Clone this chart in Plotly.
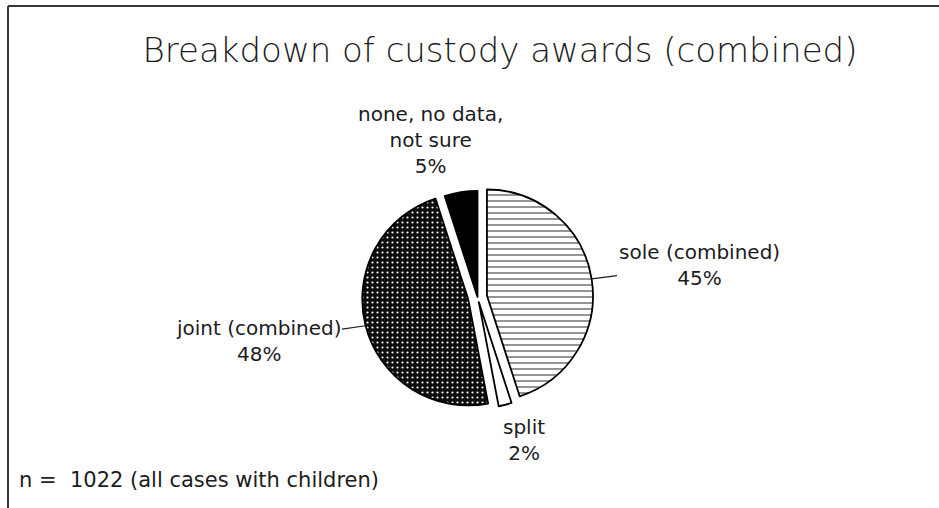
import math
import plotly.graph_objects as go

# Custody award breakdown (percent of cases with children)
categories = ["sole (combined)", "split", "joint (combined)", "none, no data,<br>not sure"]
percents = [45, 2, 48, 5]
sample_note = "n = \u00a01022 (all cases with children)"
chart_title = "Breakdown of custody awards (combined)"

# Slice styling
pulls = [0.09, 0.05, 0.09, 0.0]
fills = ["white", "white", "#0d0d0d", "black"]
pattern_shapes = ["-", "", ".", ""]
pattern_fg = ["#3a3a3a", "white", "white", "black"]
pattern_bg = ["white", "white", "#0d0d0d", "black"]

W, H = 939, 508
FONT = "DejaVu Sans"
INK = "#1c1c1c"

# Pie placement in pixels (centre and drawn radius)
cx_px, cy_px, r_px = 477.5, 297.0, 106.0
half = r_px * (1 + max(pulls))
dom_x = [(cx_px - half) / W, (cx_px + half) / W]
dom_y = [(H - cy_px - half) / H, (H - cy_px + half) / H]

fig = go.Figure(
    go.Pie(
        labels=[c.replace("<br>", " ") for c in categories],
        values=percents,
        sort=False,
        direction="clockwise",
        rotation=0,
        pull=pulls,
        textinfo="none",
        hoverinfo="label+percent",
        domain=dict(x=dom_x, y=dom_y),
        marker=dict(
            colors=fills,
            line=dict(color="black", width=1.8),
            pattern=dict(
                shape=pattern_shapes,
                fgcolor=pattern_fg,
                bgcolor=pattern_bg,
                size=[6, 8, 5, 8],
                solidity=[0.18, 0.2, 0.15, 0.2],
                fillmode="replace",
            ),
        ),
        showlegend=False,
    )
)

# Text centres for each slice label (pixels) and whether it gets a leader line
label_centres = [(699, 265), (524, 440), (258, 341), (430, 140)]
leaders = [True, False, True, False]

total = sum(percents)
start = 0.0
annotations = []
for name, pct, pull, (tx, ty), lead in zip(categories, percents, pulls, label_centres, leaders):
    frac = pct / total
    mid = 2 * math.pi * (start + frac / 2)
    start += frac
    text = f"{name}<br>{pct}%"
    if lead:
        # point on the slice rim at its mid angle (after the pull offset)
        hx = cx_px + (1 + pull) * r_px * math.sin(mid)
        hy = cy_px - (1 + pull) * r_px * math.cos(mid)
        annotations.append(dict(
            x=hx / W, y=1 - hy / H, xref="paper", yref="paper",
            ax=tx - hx, ay=ty - hy, axref="pixel", ayref="pixel",
            text=text, showarrow=True, arrowhead=0, arrowwidth=1.2,
            arrowcolor=INK, standoff=0, startstandoff=0,
            font=dict(family=FONT, size=20, color=INK), align="center",
        ))
    else:
        annotations.append(dict(
            x=tx / W, y=1 - ty / H, xref="paper", yref="paper",
            xanchor="center", yanchor="middle", showarrow=False,
            text=text, font=dict(family=FONT, size=20, color=INK), align="center",
        ))

annotations.append(dict(
    x=17 / W, y=1 - 480 / H, xref="paper", yref="paper",
    xanchor="left", yanchor="middle", showarrow=False,
    text=sample_note, font=dict(family=FONT, size=21, color=INK),
))

fig.update_layout(
    width=W, height=H,
    margin=dict(l=0, r=0, t=0, b=0),
    paper_bgcolor="white",
    plot_bgcolor="white",
    title=dict(
        text=chart_title,
        x=500 / W, xanchor="center",
        y=1 - 50 / H, yanchor="middle", yref="container",
        font=dict(family=FONT, size=34, color=INK, weight=200),
    ),
    annotations=annotations,
    shapes=[
        dict(type="line", xref="paper", yref="paper",
             x0=8 / W, x1=1, y0=1 - 6 / H, y1=1 - 6 / H,
             line=dict(color="#3a3a3a", width=2)),
        dict(type="line", xref="paper", yref="paper",
             x0=8 / W, x1=8 / W, y0=0, y1=1 - 6 / H,
             line=dict(color="#3a3a3a", width=2)),
    ],
)

fig.write_html("out.html")
